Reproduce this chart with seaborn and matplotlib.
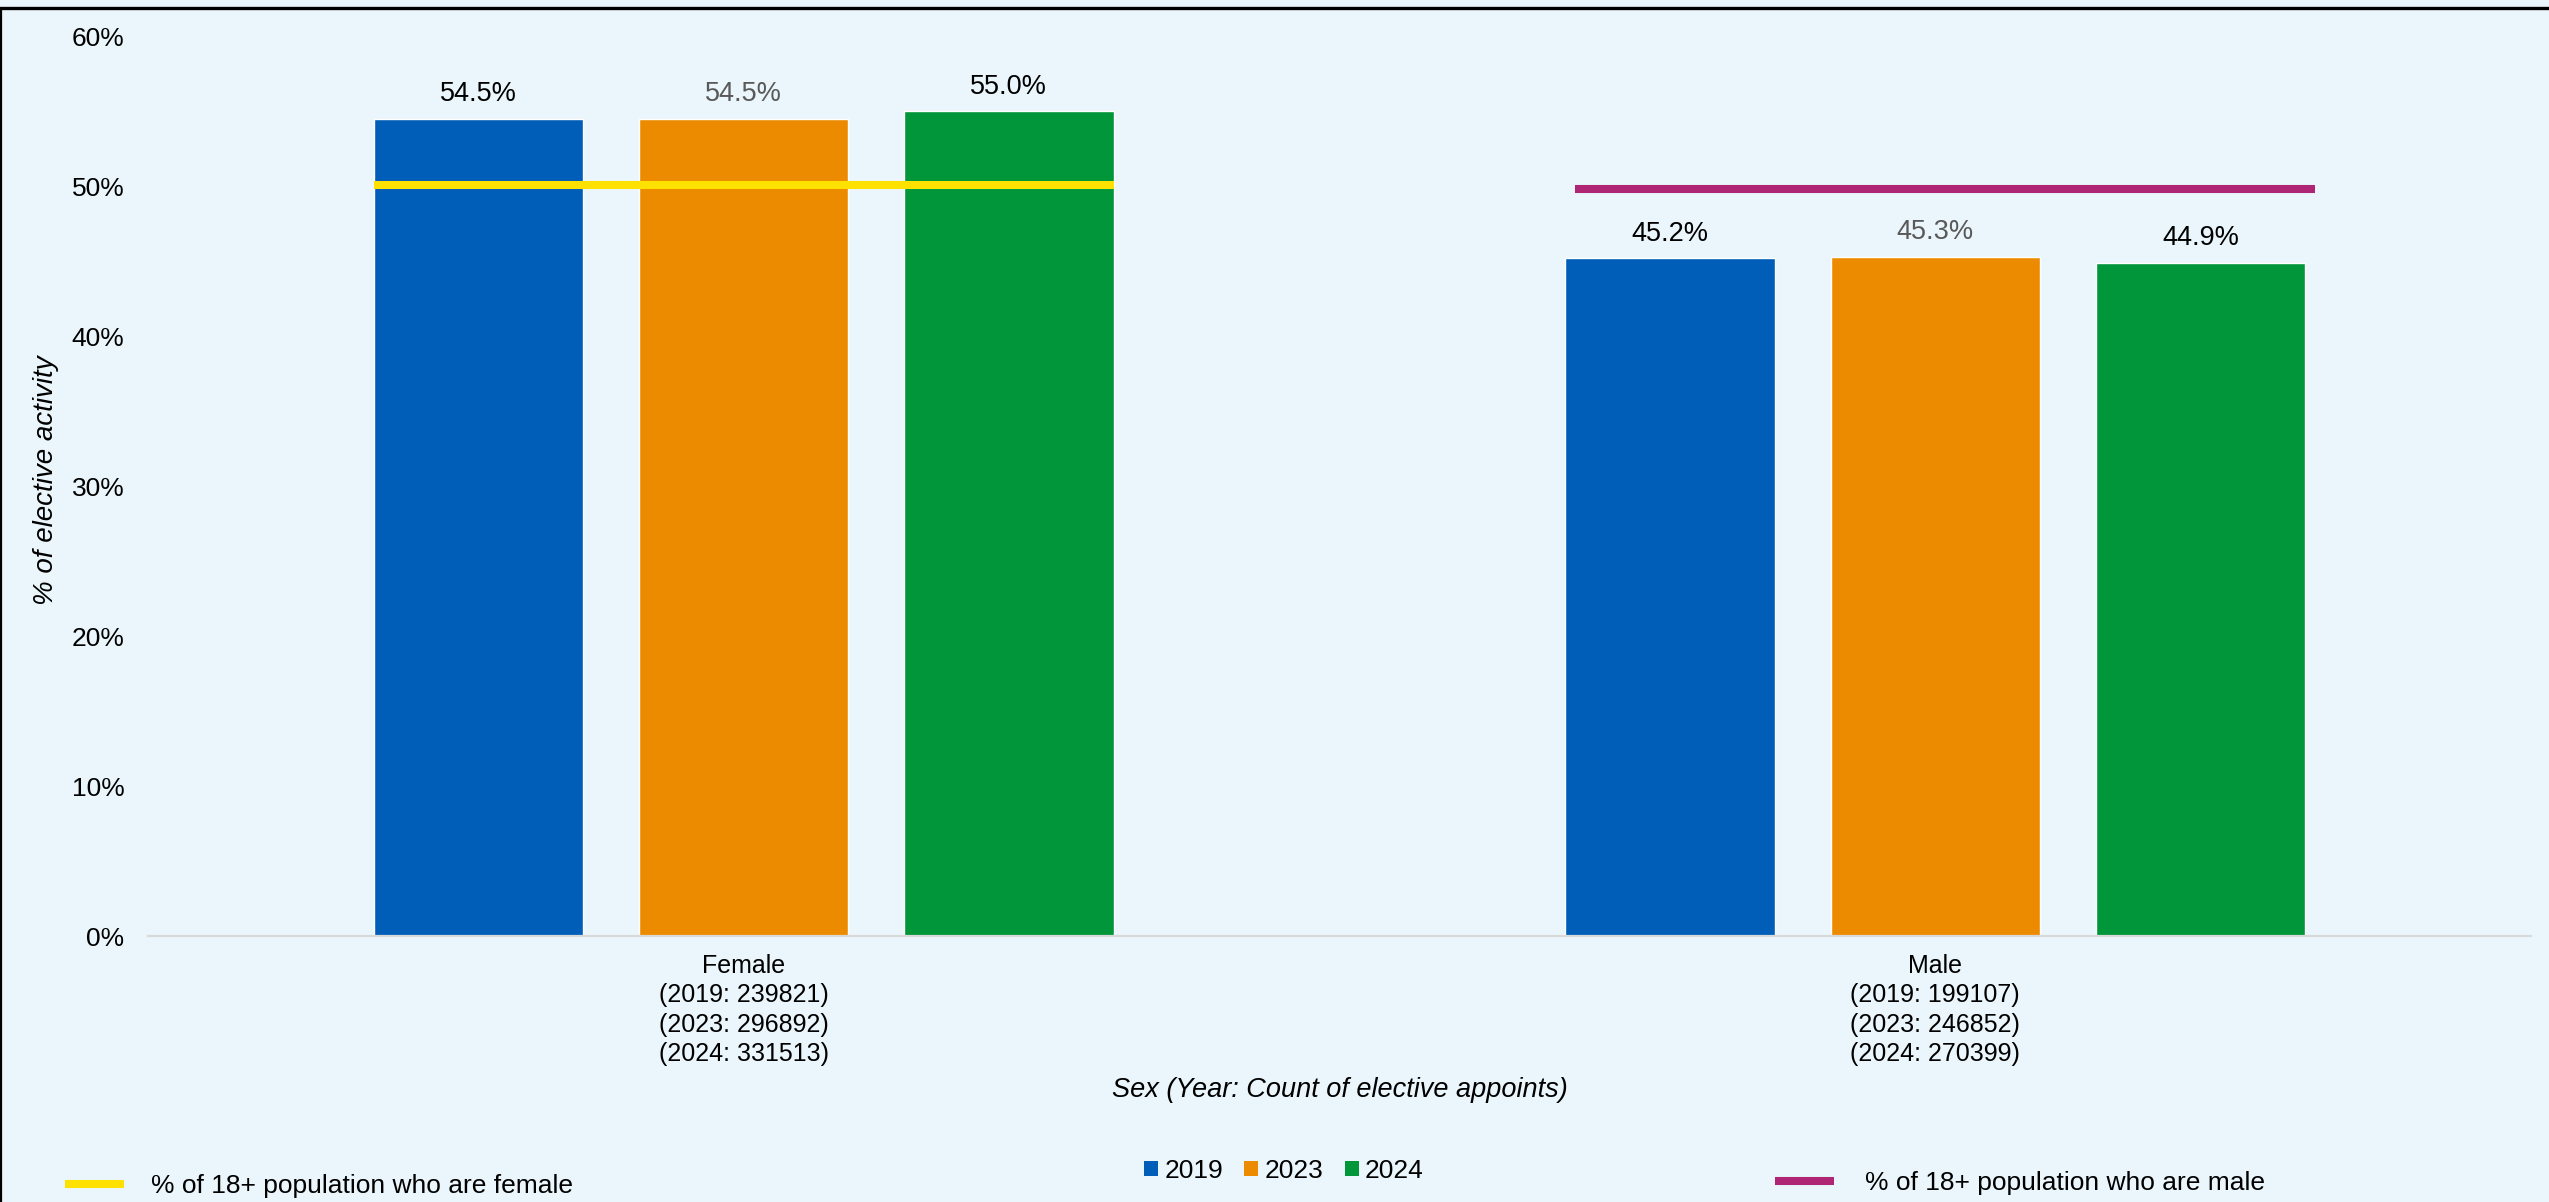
import matplotlib
matplotlib.use("Agg")
import matplotlib.pyplot as plt
import seaborn as sns
import pandas as pd
from matplotlib.lines import Line2D
from matplotlib.patches import Patch
from matplotlib.ticker import FuncFormatter

# ---- data ----
sexes = ["Female", "Male"]
years = ["2019", "2023", "2024"]
counts_female = [239821, 296892, 331513]
counts_male = [199107, 246852, 270399]
pct_female = [54.5, 54.5, 55.0]
pct_male = [45.2, 45.3, 44.9]
pop_female = 50.1
pop_male = 49.8

colors = {"2019": "#005EB8", "2023": "#ED8B00", "2024": "#009639"}
yellow = "#FFE100"
magenta = "#AE2573"
bg = "#EAF6FB"

def cat_label(name, counts):
    return name + "\n" + "\n".join(f"({y}: {c})" for y, c in zip(years, counts))

cat_labels = [cat_label("Female", counts_female), cat_label("Male", counts_male)]
rows = []
for lab, vals in zip(cat_labels, [pct_female, pct_male]):
    for y, v in zip(years, vals):
        rows.append({"Sex": lab, "Year": y, "pct": v})
df = pd.DataFrame(rows)

sns.set_theme(style="white")
plt.rcParams["font.family"] = ["Liberation Sans", "DejaVu Sans"]
plt.rcParams["text.color"] = "black"
plt.rcParams["xtick.color"] = "black"
plt.rcParams["ytick.color"] = "black"
plt.rcParams["axes.labelcolor"] = "black"

fig = plt.figure(figsize=(25.49, 12.02), dpi=100, facecolor=bg)
ax = fig.add_axes([148/2549, 1 - 936/1202, (2531-148)/2549, 900/1202])
ax.set_facecolor(bg)

sns.barplot(data=df, x="Sex", y="pct", hue="Year", hue_order=years, order=cat_labels,
            palette=colors, width=0.6675, gap=0.21, saturation=1, legend=False, ax=ax,
            errorbar=None)

label_colors = ["black", "#595959", "black"]
for cont, lc in zip(ax.containers, label_colors):
    ax.bar_label(cont, fmt="%.1f%%", padding=8, fontsize=19.5, color=lc)

# population reference lines spanning each category's bars
pops = [pop_female, pop_male]
for i, (p, col) in enumerate(zip(pops, [yellow, magenta])):
    xs = []
    for cont in ax.containers:
        b = cont.patches[i]
        xs += [b.get_x(), b.get_x() + b.get_width()]
    ext = 0 if i == 0 else 0.008
    ax.plot([min(xs) + ext, max(xs) + ext], [p, p], color=col, lw=5.8, solid_capstyle="butt", zorder=5)

ax.set_xlim(-0.5, 1.5)
ax.set_ylim(0, 60)
ax.set_yticks(range(0, 61, 10))
ax.yaxis.set_major_formatter(FuncFormatter(lambda v, _: f"{v:.0f}%"))
ax.tick_params(axis="y", length=0, pad=17, labelsize=19)
ax.tick_params(axis="x", length=0, pad=13, labelsize=18)
for lbl in ax.get_xticklabels():
    lbl.set_linespacing(1.28)
for s in ["top", "right", "left"]:
    ax.spines[s].set_visible(False)
ax.spines["bottom"].set_color("#D9D9D9")
ax.spines["bottom"].set_linewidth(1.6)
ax.grid(False)

ax.set_xlabel("Sex (Year: Count of elective appoints)", fontsize=19.5, style="italic", labelpad=8)
ax.set_ylabel("% of elective activity", fontsize=20, style="italic")
ax.yaxis.set_label_coords(-0.0375, 0.506)

# legends
leg_kw = dict(frameon=False, fontsize=19, borderpad=0, borderaxespad=0)
h1 = [Line2D([], [], color=yellow, lw=5.8, solid_capstyle="butt")]
l1 = fig.legend(h1, ["% of 18+ population who are female"], loc="center left",
                bbox_to_anchor=(65/2549, 1 - 1186/1202), handlelength=2.24, handletextpad=1.02, **leg_kw)
h2 = [Patch(facecolor=colors[y], edgecolor="none") for y in years]
l2 = fig.legend(h2, years, loc="center", ncol=3, bbox_to_anchor=(1284/2549, 1 - 1171/1202),
                handlelength=0.53, handleheight=0.53, handletextpad=0.24, columnspacing=0.8, **leg_kw)
h3 = [Line2D([], [], color=magenta, lw=5.8, solid_capstyle="butt")]
l3 = fig.legend(h3, ["% of 18+ population who are male"], loc="center left",
                bbox_to_anchor=(1775/2549, 1 - 1183/1202), handlelength=2.24, handletextpad=1.18, **leg_kw)

# outer border (top and left)
fig.add_artist(Line2D([0, 1], [1 - 8/1202, 1 - 8/1202], transform=fig.transFigure, color="black", lw=2.4))
fig.add_artist(Line2D([0.5/2549, 0.5/2549], [0, 1 - 8/1202], transform=fig.transFigure, color="black", lw=1.6))

fig.savefig("out.png", dpi=100, facecolor=bg)
